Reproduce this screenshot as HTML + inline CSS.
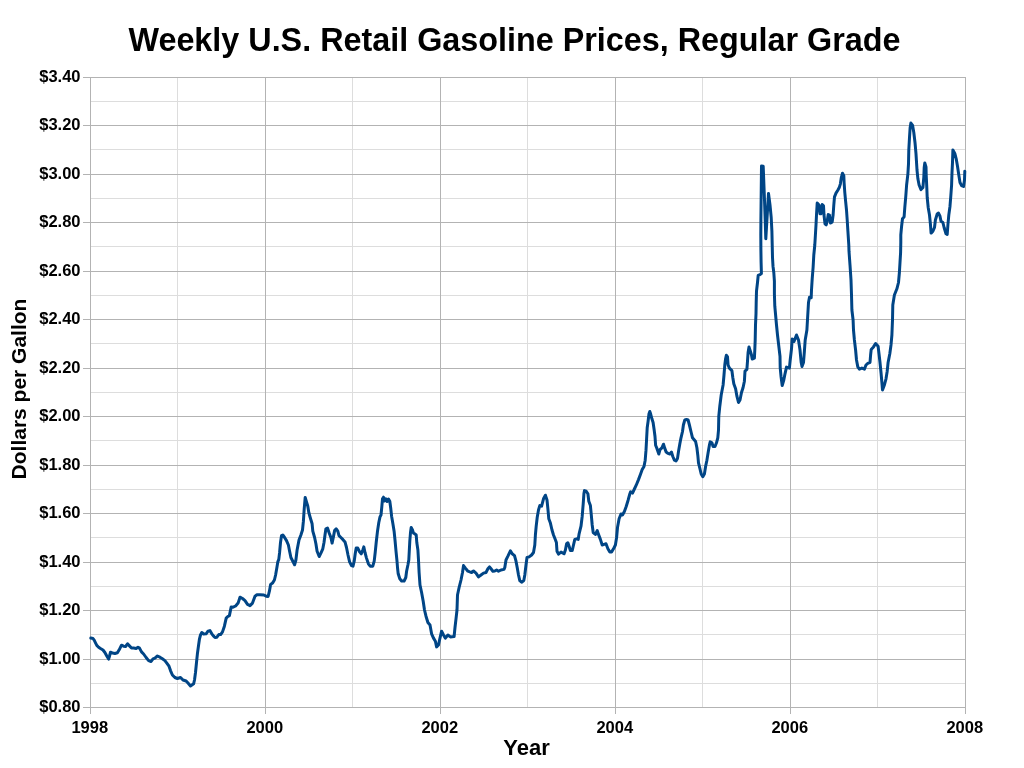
<!DOCTYPE html><html><head><meta charset="utf-8"><title>Weekly U.S. Retail Gasoline Prices</title><style>html,body{margin:0;padding:0;background:#fff}svg{display:block}text{font-family:"Liberation Sans",sans-serif;font-weight:bold;fill:#000}</style></head><body>
<svg width="1024" height="768" viewBox="0 0 1024 768">
<rect width="1024" height="768" fill="#fff"/>
<path d="M90 101.5H965M90 149.5H965M90 198.5H965M90 246.5H965M90 295.5H965M90 343.5H965M90 392.5H965M90 440.5H965M90 489.5H965M90 537.5H965M90 586.5H965M90 634.5H965M90 683.5H965M177.5 77V707M352.5 77V707M527.5 77V707M702.5 77V707M877.5 77V707" stroke="#dddddd" stroke-width="1" fill="none" shape-rendering="crispEdges"/>
<path d="M83 77.5H966M83 125.5H966M83 174.5H966M83 222.5H966M83 271.5H966M83 319.5H966M83 368.5H966M83 416.5H966M83 465.5H966M83 513.5H966M83 562.5H966M83 610.5H966M83 659.5H966M83 707.5H966M90.5 77V714M265.5 77V714M440.5 77V714M615.5 77V714M790.5 77V714M965.5 77V714" stroke="#b3b3b3" stroke-width="1" fill="none" shape-rendering="crispEdges"/>
<text x="80.5" y="82.4" font-size="16.5" text-anchor="end">$3.40</text>
<text x="80.5" y="130.4" font-size="16.5" text-anchor="end">$3.20</text>
<text x="80.5" y="179.4" font-size="16.5" text-anchor="end">$3.00</text>
<text x="80.5" y="227.4" font-size="16.5" text-anchor="end">$2.80</text>
<text x="80.5" y="276.4" font-size="16.5" text-anchor="end">$2.60</text>
<text x="80.5" y="324.4" font-size="16.5" text-anchor="end">$2.40</text>
<text x="80.5" y="373.4" font-size="16.5" text-anchor="end">$2.20</text>
<text x="80.5" y="421.4" font-size="16.5" text-anchor="end">$2.00</text>
<text x="80.5" y="470.4" font-size="16.5" text-anchor="end">$1.80</text>
<text x="80.5" y="518.4" font-size="16.5" text-anchor="end">$1.60</text>
<text x="80.5" y="567.4" font-size="16.5" text-anchor="end">$1.40</text>
<text x="80.5" y="615.4" font-size="16.5" text-anchor="end">$1.20</text>
<text x="80.5" y="664.4" font-size="16.5" text-anchor="end">$1.00</text>
<text x="80.5" y="712.4" font-size="16.5" text-anchor="end">$0.80</text>
<text x="89.75" y="732.6" font-size="16.5" text-anchor="middle">1998</text>
<text x="264.75" y="732.6" font-size="16.5" text-anchor="middle">2000</text>
<text x="439.75" y="732.6" font-size="16.5" text-anchor="middle">2002</text>
<text x="614.75" y="732.6" font-size="16.5" text-anchor="middle">2004</text>
<text x="789.75" y="732.6" font-size="16.5" text-anchor="middle">2006</text>
<text x="964.75" y="732.6" font-size="16.5" text-anchor="middle">2008</text>
<text x="514.5" y="50.5" font-size="32.35" text-anchor="middle">Weekly U.S. Retail Gasoline Prices, Regular Grade</text>
<text x="526.5" y="755" font-size="22" text-anchor="middle">Year</text>
<text transform="translate(26 389) rotate(-90)" font-size="21" text-anchor="middle">Dollars per Gallon</text>
<path d="M90.8 638.1 L93.0 638.5 L94.2 640.2 L95.5 642.8 L96.8 645.4 L98.6 647.2 L100.5 648.5 L103.0 650.0 L104.9 652.5 L106.8 656.0 L108.6 659.1 L109.5 656.2 L110.5 652.2 L112.4 653.1 L114.9 653.5 L117.4 652.8 L119.2 649.8 L121.5 645.2 L123.6 646.2 L125.5 646.5 L127.5 643.8 L129.2 645.6 L131.5 648.1 L133.6 648.1 L136.1 648.5 L138.0 647.2 L139.5 648.1 L141.5 651.9 L143.6 654.0 L146.1 657.5 L148.6 660.6 L151.1 661.5 L153.0 658.8 L154.9 658.1 L157.4 656.0 L159.9 657.2 L162.4 658.8 L164.9 660.6 L166.8 663.1 L169.0 666.2 L170.5 670.6 L172.4 675.0 L174.9 677.5 L177.4 678.5 L180.5 677.5 L183.0 680.0 L186.1 681.0 L188.0 683.1 L190.5 686.0 L193.6 683.8 L194.5 680.0 L195.5 672.5 L196.5 662.5 L197.4 653.8 L198.6 645.0 L199.5 638.8 L200.5 635.0 L201.8 632.5 L203.6 634.0 L206.1 633.8 L208.0 631.2 L209.9 630.6 L211.8 633.8 L213.6 636.2 L215.0 637.5 L216.9 637.2 L218.8 634.6 L220.6 634.6 L222.5 631.9 L224.4 626.2 L226.2 618.1 L227.8 616.5 L229.4 615.6 L231.2 606.9 L233.1 607.2 L235.6 606.0 L238.1 603.1 L240.0 597.2 L242.5 598.5 L245.0 600.6 L247.5 604.4 L250.0 605.6 L252.5 603.1 L255.0 596.2 L256.9 594.8 L260.0 594.8 L263.8 595.0 L266.2 596.2 L268.1 596.5 L269.4 591.2 L270.6 584.4 L272.5 583.1 L274.4 580.0 L275.6 575.0 L276.9 567.5 L277.8 561.9 L278.8 559.4 L279.6 552.5 L280.5 542.5 L281.5 535.6 L282.8 535.0 L284.6 537.5 L286.5 540.6 L288.4 545.0 L289.6 551.2 L290.9 557.5 L292.8 561.2 L294.6 564.8 L295.9 560.0 L297.1 550.0 L299.0 540.0 L300.9 535.0 L302.5 530.0 L303.4 521.2 L304.2 508.8 L305.2 497.5 L306.5 501.9 L307.8 506.2 L308.8 512.5 L310.2 517.5 L312.1 523.8 L312.8 531.2 L314.6 537.5 L315.9 543.8 L317.1 551.2 L319.2 556.5 L320.9 553.1 L322.8 548.8 L324.0 542.5 L325.0 535.0 L325.9 528.8 L327.5 528.1 L329.0 532.5 L330.9 537.5 L332.1 543.1 L333.4 536.9 L334.6 530.6 L336.2 528.8 L337.8 531.2 L339.0 535.6 L340.9 537.5 L342.8 539.4 L345.0 541.9 L346.5 547.5 L348.0 555.0 L349.6 561.9 L351.5 565.6 L353.0 566.2 L354.2 561.2 L355.2 553.8 L356.2 548.1 L357.8 548.1 L359.6 551.9 L361.2 553.8 L362.8 550.0 L363.8 546.9 L365.0 552.5 L366.5 558.1 L368.4 563.8 L370.2 566.2 L372.8 566.2 L374.2 561.2 L375.2 552.5 L376.2 542.5 L377.5 531.2 L378.8 522.5 L380.0 516.9 L381.0 515.0 L381.8 506.9 L382.5 498.8 L383.5 497.2 L384.5 501.0 L385.8 498.8 L387.2 501.5 L388.5 499.0 L389.8 501.2 L390.8 508.8 L391.6 516.2 L392.9 523.8 L394.1 531.2 L395.0 540.0 L396.0 551.2 L397.0 561.2 L397.5 567.5 L398.2 573.8 L399.8 578.8 L401.6 581.0 L404.1 581.0 L405.8 577.5 L406.6 571.2 L407.9 565.0 L408.8 560.0 L409.8 541.2 L410.5 532.5 L411.2 527.5 L412.5 530.0 L413.5 533.1 L414.8 533.8 L416.2 535.0 L416.8 542.5 L417.9 550.0 L418.5 560.0 L419.1 572.5 L420.0 585.0 L421.6 592.5 L423.2 601.2 L424.5 610.0 L426.0 616.2 L427.9 622.5 L430.0 625.0 L431.6 633.8 L433.5 638.1 L435.4 641.2 L436.6 646.9 L438.5 645.0 L439.8 638.8 L441.6 631.2 L443.5 635.0 L445.4 638.1 L447.9 635.0 L450.4 636.9 L454.1 636.5 L455.0 627.5 L456.0 618.8 L457.0 610.0 L457.5 595.0 L459.1 587.5 L461.0 580.0 L462.5 572.5 L463.5 565.6 L465.4 568.1 L467.9 571.2 L469.8 571.9 L471.6 572.5 L473.5 571.0 L476.0 573.1 L478.5 576.9 L481.0 575.0 L483.5 573.1 L486.0 572.5 L487.9 568.8 L489.5 566.9 L491.0 568.8 L492.9 571.2 L494.8 571.0 L496.6 570.0 L498.5 571.2 L501.0 570.0 L504.0 569.4 L504.8 567.5 L506.0 560.0 L507.9 556.2 L510.4 550.9 L512.2 553.8 L514.5 555.6 L516.0 561.2 L517.2 567.5 L518.5 575.0 L519.8 580.6 L521.6 582.2 L523.8 580.6 L524.8 575.0 L526.0 565.0 L527.0 557.5 L529.1 556.9 L531.6 555.0 L533.5 552.5 L534.8 545.0 L535.4 535.0 L536.2 526.2 L537.2 517.5 L538.5 510.0 L539.8 505.6 L541.6 506.2 L543.5 498.8 L545.4 495.2 L547.0 500.0 L547.9 508.8 L548.8 518.8 L550.4 523.1 L552.0 530.0 L553.5 535.0 L555.0 538.8 L556.4 542.5 L557.0 551.2 L558.5 554.1 L561.0 552.1 L564.1 553.8 L565.4 550.0 L566.6 543.8 L567.9 542.8 L569.1 546.2 L570.4 550.6 L572.2 550.6 L573.5 545.0 L574.8 539.4 L576.6 538.8 L578.2 539.4 L579.1 533.8 L581.0 526.2 L582.2 516.2 L583.2 503.8 L583.9 493.8 L584.5 490.6 L586.2 491.2 L587.9 493.8 L588.8 501.2 L590.4 505.6 L591.2 513.8 L592.2 525.0 L593.2 532.5 L595.4 534.4 L597.2 530.6 L598.5 534.4 L600.4 539.4 L602.2 545.0 L604.1 544.4 L606.0 543.8 L607.9 548.8 L609.8 551.9 L611.6 551.9 L613.5 548.8 L615.4 545.0 L616.6 537.5 L617.5 527.5 L619.1 518.8 L621.0 514.0 L622.5 515.0 L624.4 511.5 L626.2 506.5 L628.1 500.2 L629.8 494.0 L630.6 491.8 L632.5 493.1 L634.4 489.0 L636.2 485.2 L638.5 479.6 L640.6 474.0 L642.2 469.6 L644.0 466.5 L645.2 460.2 L646.0 450.2 L646.6 439.0 L647.2 427.8 L648.1 421.2 L649.0 413.8 L649.8 411.5 L650.6 413.8 L651.9 418.8 L653.1 422.5 L654.0 428.8 L655.0 436.5 L655.6 445.2 L656.9 448.4 L658.8 454.0 L660.0 449.6 L661.9 447.8 L663.5 444.2 L664.8 448.4 L666.2 452.1 L668.1 453.4 L669.8 454.0 L671.5 452.1 L672.8 456.5 L674.4 460.2 L676.0 460.9 L677.5 458.4 L678.5 451.5 L679.8 444.0 L681.0 437.8 L682.5 431.5 L683.4 425.0 L684.8 420.0 L686.5 419.5 L688.1 420.0 L689.4 425.0 L691.2 432.5 L692.5 437.8 L695.6 441.5 L696.9 447.8 L697.8 455.2 L698.5 462.8 L700.0 469.0 L701.2 474.0 L702.8 476.8 L704.4 474.0 L705.6 466.5 L706.9 460.2 L708.1 452.8 L709.4 445.2 L710.2 441.9 L711.9 442.8 L713.1 446.5 L715.0 446.5 L716.5 442.8 L717.8 437.8 L718.5 430.2 L718.8 416.2 L719.8 406.2 L721.2 395.0 L723.1 385.0 L724.0 375.0 L724.8 365.0 L725.6 358.8 L726.4 355.2 L727.5 356.9 L728.1 365.0 L729.4 368.1 L731.9 370.6 L732.8 377.5 L733.8 383.8 L735.6 388.8 L736.9 396.2 L738.5 402.5 L740.0 400.0 L741.5 392.5 L743.1 387.5 L744.4 381.2 L745.0 371.2 L746.9 369.4 L747.5 361.2 L748.1 352.5 L749.0 346.9 L750.2 350.6 L751.5 355.0 L752.2 359.0 L754.4 358.1 L754.8 350.0 L755.2 340.0 L755.5 325.0 L756.0 313.8 L756.2 302.5 L756.5 291.2 L757.5 282.5 L758.2 275.4 L760.0 274.6 L761.4 273.5 L761.1 262.5 L760.9 250.0 L760.8 235.0 L760.9 220.0 L761.5 165.9 L763.2 166.2 L764.5 200.0 L765.2 220.0 L765.8 238.8 L768.5 193.4 L770.0 205.0 L771.2 217.5 L771.9 231.2 L772.5 257.5 L773.0 266.2 L773.8 272.5 L774.4 281.2 L774.4 293.8 L774.8 306.2 L775.6 315.0 L776.5 325.0 L777.5 335.0 L778.8 346.2 L780.0 356.2 L780.2 367.5 L781.0 376.2 L782.2 385.6 L783.8 380.0 L785.0 373.8 L786.5 367.1 L789.4 368.1 L790.2 360.0 L791.5 348.8 L792.2 339.0 L794.0 341.5 L796.5 335.0 L798.5 340.0 L800.0 350.0 L801.2 362.5 L802.0 366.5 L803.5 362.5 L804.4 351.2 L805.2 340.0 L806.9 330.0 L808.5 302.5 L809.5 297.2 L811.2 297.8 L811.5 290.0 L812.2 278.8 L813.1 267.5 L813.8 255.0 L814.8 245.0 L815.4 235.0 L816.0 225.0 L816.5 215.0 L817.2 203.1 L819.0 205.0 L820.0 213.8 L821.0 213.8 L822.2 204.6 L823.5 205.9 L824.0 215.0 L825.0 223.8 L826.2 224.8 L827.2 221.2 L828.2 214.6 L829.5 215.2 L830.5 223.1 L832.2 221.9 L833.1 215.0 L833.8 205.0 L834.5 196.9 L836.0 193.1 L837.8 190.2 L839.4 187.2 L840.4 183.8 L841.2 178.1 L842.5 173.2 L843.8 175.6 L844.1 182.5 L844.8 192.5 L845.6 201.2 L846.5 210.0 L847.2 220.0 L847.9 231.2 L848.8 245.0 L849.0 251.2 L850.0 265.0 L851.0 280.0 L851.5 295.0 L851.9 310.0 L853.1 320.0 L853.5 330.0 L854.4 340.0 L855.6 350.0 L856.5 360.0 L857.8 366.9 L859.4 369.1 L861.9 368.1 L864.4 369.1 L866.0 365.0 L868.1 363.1 L870.0 362.5 L870.6 355.0 L871.2 349.4 L873.5 346.9 L875.6 343.5 L878.1 346.2 L879.0 353.8 L880.0 362.5 L881.0 372.5 L881.9 382.5 L882.5 390.0 L884.4 385.0 L886.0 378.8 L887.2 371.2 L888.1 362.5 L889.8 353.8 L891.0 345.0 L891.9 335.0 L892.5 320.0 L892.8 305.0 L894.4 295.0 L896.9 288.8 L898.5 282.5 L899.4 272.5 L900.0 262.5 L900.6 252.5 L900.8 242.5 L900.8 235.0 L901.6 226.2 L902.5 218.8 L904.1 216.9 L904.8 207.5 L905.8 196.2 L906.6 185.0 L907.9 173.8 L908.5 163.8 L908.8 150.0 L909.5 137.5 L910.1 128.1 L910.9 123.1 L912.6 125.4 L913.8 132.5 L915.0 142.5 L916.0 153.8 L917.0 170.0 L917.9 178.8 L919.1 185.0 L921.0 189.6 L922.9 187.5 L923.8 177.5 L924.2 167.5 L924.8 162.9 L926.0 166.9 L926.2 175.0 L926.8 187.5 L927.2 197.5 L928.2 207.5 L929.5 215.0 L930.4 223.8 L931.1 233.1 L932.9 231.2 L934.5 227.5 L935.4 220.0 L937.2 214.0 L938.5 213.1 L940.0 216.2 L941.0 221.2 L942.9 222.5 L944.1 227.5 L946.0 233.8 L947.2 234.5 L947.9 225.0 L948.8 215.0 L950.0 206.2 L950.8 196.2 L951.6 185.0 L952.0 172.5 L952.5 162.5 L952.9 149.9 L954.8 153.4 L956.2 158.8 L957.5 166.2 L958.8 175.0 L960.0 182.5 L961.6 185.6 L963.5 186.5 L964.5 180.0 L964.8 171.2" stroke="#004586" stroke-width="3" fill="none" stroke-linejoin="round" stroke-linecap="round"/>
</svg></body></html>
